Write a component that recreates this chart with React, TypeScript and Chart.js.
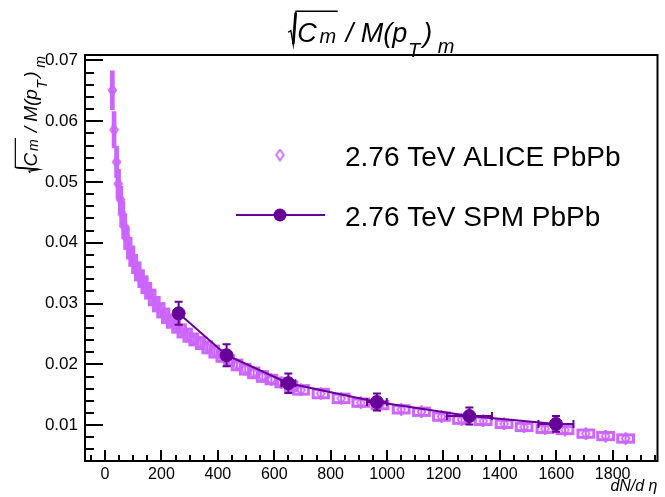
import React, { useEffect, useRef } from "react";
import { Chart, registerables } from "chart.js";

Chart.register(...registerables);

const FONT = '"Liberation Sans", Arial, Helvetica, sans-serif';
const ALICE_COLOR = "#cc66ff";
const SPM_COLOR = "#660099";

const seriesNames = ["2.76 TeV ALICE PbPb", "2.76 TeV SPM PbPb"];
const xTitle = "dN/d \u03b7";

// ALICE PbPb 2.76 TeV
const aliceDNdEta = [26, 32, 41, 47, 55, 61, 68, 76, 86, 95, 105, 116, 128, 140, 153, 167, 182, 198, 215, 233, 252, 272, 293, 315, 338, 362, 387, 413, 440, 468, 497, 527, 558, 590, 625, 660, 695, 765, 837, 907, 975, 1050, 1122, 1193, 1264, 1341, 1415, 1486, 1560, 1631, 1705, 1775, 1846];
const aliceValues = [0.0651, 0.0586, 0.0533, 0.0497, 0.0471, 0.0447, 0.0427, 0.0408, 0.0391, 0.0378, 0.0365, 0.0353, 0.0341, 0.0331, 0.0321, 0.0310, 0.0299, 0.0289, 0.0280, 0.0271, 0.0263, 0.0255, 0.0248, 0.0241, 0.0235, 0.0228, 0.0221, 0.0214, 0.0206, 0.0199, 0.0192, 0.0186, 0.0180, 0.0175, 0.0170, 0.0164, 0.0158, 0.0152, 0.0144, 0.0137, 0.0133, 0.0126, 0.0122, 0.0114, 0.0109, 0.0107, 0.0102, 0.0097, 0.0094, 0.0092, 0.0086, 0.0082, 0.0078];
const aliceStatErr = [0.0026, 0.0024, 0.0020, 0.0018, 0.0016, 0.0015, 0.0014, 0.0013, 0.0012, 0.0012, 0.0011, 0.0011, 0.0011, 0.0011, 0.0010, 0.0010, 0.0010, 0.0010, 0.0010, 0.0010, 0.0010, 0.0010, 0.0010, 0.0010, 0.0010, 0.0010, 0.0010, 0.0010, 0.0010, 0.0010, 0.0010, 0.0010, 0.0010, 0.0010, 0.0010, 0.0010, 0.0010, 0.0010, 0.0010, 0.0010, 0.0010, 0.0010, 0.0010, 0.0010, 0.0010, 0.0010, 0.0010, 0.0010, 0.0010, 0.0010, 0.0010, 0.0010, 0.0010];
const aliceSysErr = [0.0030, 0.0028, 0.0024, 0.0022, 0.0020, 0.0019, 0.0018, 0.0017, 0.0016, 0.0015, 0.0014, 0.0014, 0.0013, 0.0013, 0.0012, 0.0012, 0.0011, 0.0011, 0.0011, 0.0010, 0.0010, 0.0010, 0.0010, 0.0009, 0.0009, 0.0009, 0.0009, 0.0009, 0.0008, 0.0008, 0.0008, 0.0008, 0.0008, 0.0007, 0.0007, 0.0007, 0.0007, 0.0007, 0.0007, 0.0006, 0.0006, 0.0006, 0.0006, 0.0006, 0.0006, 0.0006, 0.0006, 0.0006, 0.0006, 0.0006, 0.0006, 0.0006, 0.0006];
const aliceSysDN = [3, 3, 3, 4, 4, 5, 5, 6, 6, 7, 7, 8, 8, 9, 9, 10, 10, 11, 11, 12, 12, 13, 13, 14, 14, 15, 15, 16, 16, 17, 17, 18, 18, 19, 19, 20, 26, 27, 28, 28, 28, 28, 28, 28, 28, 28, 28, 28, 28, 28, 28, 28, 28];

// SPM PbPb 2.76 TeV
const spmDNdEta = [261, 431, 650, 964, 1292, 1599];
const spmValues = [0.0284, 0.0215, 0.0169, 0.0138, 0.0115, 0.0102];
const spmErr = [0.0019, 0.0018, 0.0016, 0.0014, 0.0014, 0.0013];
const spmDNErr = [10, 15, 25, 35, 80, 62];

// Axes
const X_MIN = -71;
const X_MAX = 1959;
const Y_MIN = 0.0041;
const Y_MAX = 0.0709;
const xTickValues = [0, 200, 400, 600, 800, 1000, 1200, 1400, 1600, 1800];
const yTickValues = [0.01, 0.02, 0.03, 0.04, 0.05, 0.06, 0.07];
const X_MINOR_STEP = 50;
const Y_MINOR_STEP = 0.002;

function makeDiamond(): HTMLCanvasElement {
  const c = document.createElement("canvas");
  c.width = 11;
  c.height = 13;
  const g = c.getContext("2d")!;
  g.strokeStyle = ALICE_COLOR;
  g.lineWidth = 1.8;
  g.beginPath();
  g.moveTo(5.5, 1.2);
  g.lineTo(9.3, 6.5);
  g.lineTo(5.5, 11.8);
  g.lineTo(1.7, 6.5);
  g.closePath();
  g.stroke();
  return c;
}

// draws sqrt(C_m) / M(p_T)_m at origin (baseline y = 0), returns width
function drawMath(ctx: CanvasRenderingContext2D, s: number, draw: boolean): number {
  const sub = s * 0.74;
  let x = 0;
  const x0 = 0;
  const h = s * 1.14;
  x += s * 0.34;
  ctx.font = `italic ${s}px ${FONT}`;
  if (draw) ctx.fillText("C", x, 0);
  x += ctx.measureText("C").width + s * 0.1;
  ctx.font = `italic ${sub}px ${FONT}`;
  if (draw) ctx.fillText("m", x, s * 0.05);
  x += ctx.measureText("m").width + s * 0.06;
  const radEnd = x;
  if (draw) {
    ctx.lineJoin = "miter";
    ctx.lineWidth = Math.max(1.2, s * 0.05);
    ctx.beginPath();
    ctx.moveTo(x0, -s * 0.36);
    ctx.lineTo(x0 + s * 0.1, -s * 0.42);
    ctx.lineTo(x0 + s * 0.19, s * 0.1);
    ctx.lineTo(x0 + s * 0.29, -h);
    ctx.lineTo(radEnd, -h);
    ctx.stroke();
    ctx.lineWidth = Math.max(1.5, s * 0.1);
    ctx.beginPath();
    ctx.moveTo(x0 + s * 0.19, s * 0.08);
    ctx.lineTo(x0 + s * 0.28, -h + s * 0.05);
    ctx.stroke();
  }
  x += s * 0.3;
  ctx.font = `italic ${s}px ${FONT}`;
  if (draw) ctx.fillText("/ M(p", x, 0);
  x += ctx.measureText("/ M(p").width + s * 0.02;
  ctx.font = `italic ${sub}px ${FONT}`;
  if (draw) ctx.fillText("T", x, s * 0.55);
  x += ctx.measureText("T").width + s * 0.12;
  ctx.font = `italic ${s}px ${FONT}`;
  if (draw) ctx.fillText(")", x, 0);
  x += ctx.measureText(")").width + s * 0.2;
  ctx.font = `italic ${sub}px ${FONT}`;
  if (draw) ctx.fillText("m", x, s * 0.42);
  x += ctx.measureText("m").width;
  return x;
}

function makePlugin(diamond: HTMLCanvasElement) {
  return {
    id: "rootStyle",
    beforeDatasetsDraw(chart: any) {
      const { ctx, chartArea: a } = chart;
      const xs = chart.scales.x;
      const ys = chart.scales.y;
      ctx.save();
      ctx.beginPath();
      ctx.rect(a.left, a.top, a.right - a.left, a.bottom - a.top);
      ctx.clip();
      ctx.strokeStyle = ALICE_COLOR;
      ctx.lineWidth = 3;
      aliceDNdEta.forEach((dn, i) => {
        const l = xs.getPixelForValue(dn - aliceSysDN[i]);
        const r = xs.getPixelForValue(dn + aliceSysDN[i]);
        const t = ys.getPixelForValue(aliceValues[i] + aliceSysErr[i]);
        const b = ys.getPixelForValue(aliceValues[i] - aliceSysErr[i]);
        ctx.strokeRect(l, t, r - l, b - t);
      });
      ctx.lineWidth = 2;
      aliceDNdEta.forEach((dn, i) => {
        const px = xs.getPixelForValue(dn);
        const t = ys.getPixelForValue(aliceValues[i] + aliceStatErr[i]);
        const b = ys.getPixelForValue(aliceValues[i] - aliceStatErr[i]);
        ctx.beginPath();
        ctx.moveTo(px, t);
        ctx.lineTo(px, b);
        ctx.stroke();
      });
      ctx.restore();
    },
    beforeDatasetDraw(chart: any, args: any) {
      if (args.index !== 0) return;
      const { ctx } = chart;
      const xs = chart.scales.x;
      const ys = chart.scales.y;
      ctx.save();
      ctx.strokeStyle = SPM_COLOR;
      ctx.lineWidth = 2;
      const cap = 4;
      spmDNdEta.forEach((dn, i) => {
        const px = xs.getPixelForValue(dn);
        const py = ys.getPixelForValue(spmValues[i]);
        const t = ys.getPixelForValue(spmValues[i] + spmErr[i]);
        const b = ys.getPixelForValue(spmValues[i] - spmErr[i]);
        const l = xs.getPixelForValue(dn - spmDNErr[i]);
        const r = xs.getPixelForValue(dn + spmDNErr[i]);
        ctx.beginPath();
        ctx.moveTo(px, t);
        ctx.lineTo(px, b);
        ctx.moveTo(px - cap, t);
        ctx.lineTo(px + cap, t);
        ctx.moveTo(px - cap, b);
        ctx.lineTo(px + cap, b);
        ctx.moveTo(l, py);
        ctx.lineTo(r, py);
        ctx.moveTo(l, py - cap);
        ctx.lineTo(l, py + cap);
        ctx.moveTo(r, py - cap);
        ctx.lineTo(r, py + cap);
        ctx.stroke();
      });
      ctx.restore();
    },
    afterDraw(chart: any) {
      const { ctx, chartArea: a } = chart;
      const xs = chart.scales.x;
      const ys = chart.scales.y;
      ctx.save();
      ctx.strokeStyle = "#000";
      ctx.fillStyle = "#000";
      ctx.lineWidth = 2;
      ctx.lineCap = "butt";
      ctx.strokeRect(a.left, a.top, a.right - a.left, a.bottom - a.top);
      // y ticks
      ctx.beginPath();
      for (let v = Math.ceil(Y_MIN / Y_MINOR_STEP) * Y_MINOR_STEP; v <= Y_MAX + 1e-9; v += Y_MINOR_STEP) {
        const major = yTickValues.some((t) => Math.abs(t - v) < 1e-7);
        const py = Math.round(ys.getPixelForValue(v));
        ctx.moveTo(a.left, py);
        ctx.lineTo(a.left + (major ? 18 : 9), py);
      }
      // x ticks
      for (let v = Math.ceil(X_MIN / X_MINOR_STEP) * X_MINOR_STEP; v <= X_MAX; v += X_MINOR_STEP) {
        const major = xTickValues.includes(v);
        const px = Math.round(xs.getPixelForValue(v));
        ctx.moveTo(px, a.bottom);
        ctx.lineTo(px, a.bottom - (major ? 11 : 6));
      }
      ctx.stroke();

      // title
      ctx.textAlign = "left";
      ctx.textBaseline = "alphabetic";
      const ts = 27;
      const tw = drawMath(ctx, ts, false);
      ctx.save();
      ctx.translate((a.left + a.right) / 2 - tw / 2, 42);
      drawMath(ctx, ts, true);
      ctx.restore();

      // y title
      const yts = 19;
      const yw = drawMath(ctx, yts, false);
      ctx.save();
      ctx.translate(37, 56 + yw);
      ctx.rotate(-Math.PI / 2);
      drawMath(ctx, yts, true);
      ctx.restore();

      // x title
      ctx.font = `italic 16px ${FONT}`;
      ctx.textAlign = "right";
      ctx.fillText(xTitle, a.right, 491);

      // legend
      ctx.drawImage(diamond, 280 - diamond.width / 2, 155 - diamond.height / 2);
      ctx.strokeStyle = SPM_COLOR;
      ctx.fillStyle = SPM_COLOR;
      ctx.lineWidth = 2;
      ctx.beginPath();
      ctx.moveTo(236, 215);
      ctx.lineTo(325, 215);
      ctx.stroke();
      ctx.beginPath();
      ctx.arc(280, 215, 6.5, 0, Math.PI * 2);
      ctx.fill();
      ctx.fillStyle = "#000";
      ctx.font = `28px ${FONT}`;
      ctx.textAlign = "left";
      ctx.fillText(seriesNames[0], 345, 166);
      ctx.fillText(seriesNames[1], 345, 226);
      ctx.restore();
    },
  };
}

export default function App() {
  const ref = useRef<HTMLCanvasElement>(null);
  useEffect(() => {
    const canvas = ref.current!;
    const diamond = makeDiamond();
    const chart = new Chart(canvas, {
      type: "scatter",
      data: {
        datasets: [
          {
            label: seriesNames[1],
            data: spmDNdEta.map((x, i) => ({ x, y: spmValues[i] })),
            showLine: true,
            borderColor: SPM_COLOR,
            borderWidth: 2,
            backgroundColor: SPM_COLOR,
            pointRadius: 6.5,
            pointHoverRadius: 6.5,
            pointBackgroundColor: SPM_COLOR,
            pointBorderColor: SPM_COLOR,
            pointBorderWidth: 1,
            order: 0,
          } as any,
          {
            label: seriesNames[0],
            data: aliceDNdEta.map((x, i) => ({ x, y: aliceValues[i] })),
            showLine: false,
            pointStyle: diamond,
            pointRadius: 5,
            pointHoverRadius: 5,
            order: 1,
          } as any,
        ],
      },
      options: {
        responsive: false,
        animation: false,
        events: [],
        layout: { padding: { top: 55, right: 5, left: 0, bottom: 0 } },
        plugins: {
          legend: { display: false },
          title: { display: false },
          tooltip: { enabled: false },
        },
        scales: {
          x: {
            type: "linear",
            min: X_MIN,
            max: X_MAX,
            grid: { display: false, drawTicks: false },
            border: { display: false },
            ticks: {
              font: { family: FONT, size: 16 },
              color: "#000",
              padding: 4,
              maxRotation: 0,
              autoSkip: false,
              callback: (v: any) => String(v),
            },
            afterBuildTicks: (s: any) => {
              s.ticks = xTickValues.map((v) => ({ value: v }));
            },
            afterFit: (s: any) => {
              s.height = 36;
            },
          },
          y: {
            type: "linear",
            min: Y_MIN,
            max: Y_MAX,
            grid: { display: false, drawTicks: false },
            border: { display: false },
            ticks: {
              font: { family: FONT, size: 17 },
              color: "#000",
              padding: 7,
              autoSkip: false,
              callback: (v: any) => Number(v).toFixed(2),
            },
            afterBuildTicks: (s: any) => {
              s.ticks = yTickValues.map((v) => ({ value: v }));
            },
            afterFit: (s: any) => {
              s.width = 85;
            },
          },
        },
      } as any,
      plugins: [makePlugin(diamond)],
    });
    return () => chart.destroy();
  }, []);
  return (
    <div style={{ position: "absolute", left: 0, top: 0, width: 665, height: 497, background: "#fff" }}>
      <canvas ref={ref} width={665} height={497} style={{ display: "block" }} />
    </div>
  );
}
